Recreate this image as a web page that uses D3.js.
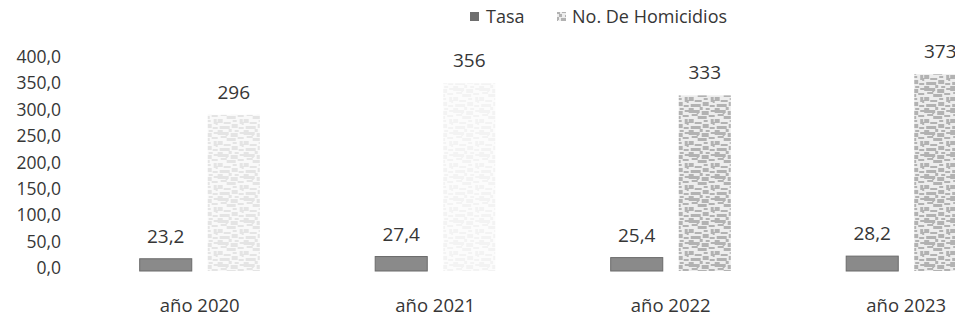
<!DOCTYPE html>
<html>
  <head>
    <meta charset="utf-8">
    <title>Tasa y homicidios</title>
    <style type="text/css">
        body{
            margin: 0;
            background: #ffffff;
        }
        svg text{
            font-family: "Open Sans", "Noto Sans", sans-serif;
            fill: #363636;
        }
    </style>
  </head>
  <body>
    <div id="chart"></div>

    <script src="https://cdn.jsdelivr.net/npm/d3@7"></script>
    <script>
        // Chart values
        var years = ["año 2020", "año 2021", "año 2022", "año 2023"];
        var seriesNames = ["Tasa", "No. De Homicidios"];
        var tasa = [23.2, 27.4, 25.4, 28.2];
        var homicidios = [296, 356, 333, 373];
        var tasaLabels = ["23,2", "27,4", "25,4", "28,2"];
        var homicidiosLabels = ["296", "356", "333", "373"];
        var yTicks = [0, 50, 100, 150, 200, 250, 300, 350, 400];

        // the scan faded the first two textured bars
        var textureFade = [0.35, 0.15, 1, 1];

        var width = 955, height = 320;

        var svg = d3.select("#chart").append("svg")
            .attr("width", width)
            .attr("height", height);

        //  Blotchy grey texture for the homicide bars
        var defs = svg.append("defs");
        var pat = defs.append("pattern")
            .attr("id", "blotch")
            .attr("patternUnits", "userSpaceOnUse")
            .attr("width", 26)
            .attr("height", 22);
        pat.append("rect").attr("width", 26).attr("height", 22).attr("fill", "#ededed");
        [[0, 0, 11, 3], [13, 1, 7, 4], [22, 0, 4, 2], [3, 4, 6, 2], [9, 6, 9, 3],
         [20, 5, 6, 2], [0, 9, 5, 4], [15, 10, 4, 2], [22, 9, 3, 5], [6, 12, 7, 2],
         [2, 16, 10, 3], [14, 14, 6, 4], [21, 17, 5, 2], [11, 19, 3, 3], [0, 20, 5, 2],
         [17, 20, 4, 2], [8, 2, 2, 2], [24, 12, 2, 3]].forEach(function (r) {
            pat.append("rect")
                .attr("x", r[0]).attr("y", r[1])
                .attr("width", r[2]).attr("height", r[3])
                .attr("fill", "#b2b2b2");
        });

        var x0 = d3.scaleBand()
            .domain(years)
            .range([82, 1024])
            .paddingInner(0.49)
            .paddingOuter(0.245);

        var x1 = d3.scaleBand()
            .domain(seriesNames)
            .range([0, x0.bandwidth()])
            .paddingInner(0.235);

        var y = d3.scaleLinear()
            .domain([0, 400])
            .range([271, 60]);

        //  Y axis labels only, no line or ticks
        var yAxis = d3.axisLeft(y)
            .tickValues(yTicks)
            .tickSize(0)
            .tickPadding(0)
            .tickFormat(function (d) { return d3.format(".1f")(d).replace(".", ","); });

        var gy = svg.append("g")
            .attr("transform", "translate(61,0)")
            .call(yAxis);
        gy.select(".domain").remove();
        gy.selectAll("text")
            .attr("dy", "0.32em")
            .attr("y", -3)
            .style("font-size", "17.5px")
            .style("font-family", "\"Open Sans\", sans-serif")
            .attr("fill", "#363636");

        var groups = svg.append("g").selectAll("g")
            .data(years)
            .enter().append("g")
            .attr("transform", function (d) { return "translate(" + x0(d) + ",0)"; });

        //  Tasa bars
        groups.append("rect")
            .attr("x", x1("Tasa"))
            .attr("y", function (d, i) { return y(tasa[i]); })
            .attr("width", x1.bandwidth())
            .attr("height", function (d, i) { return y(0) - y(tasa[i]); })
            .attr("fill", "#8a8a8a")
            .attr("stroke", "#6a6a6a")
            .attr("stroke-width", 1);

        //  Homicidios bars (textured)
        groups.append("rect")
            .attr("x", x1("No. De Homicidios"))
            .attr("y", function (d, i) { return y(homicidios[i]); })
            .attr("width", x1.bandwidth())
            .attr("height", function (d, i) { return y(0) - y(homicidios[i]); })
            .attr("fill", "url(#blotch)")
            .attr("opacity", function (d, i) { return textureFade[i]; });

        //  Value labels
        groups.append("text")
            .attr("x", x1("Tasa") + x1.bandwidth() / 2)
            .attr("y", function (d, i) { return y(tasa[i]) - 16; })
            .attr("text-anchor", "middle")
            .style("font-size", "19px")
            .text(function (d, i) { return tasaLabels[i]; });

        groups.append("text")
            .attr("x", x1("No. De Homicidios") + x1.bandwidth() / 2)
            .attr("y", function (d, i) { return y(homicidios[i]) - 16; })
            .attr("text-anchor", "middle")
            .style("font-size", "19px")
            .text(function (d, i) { return homicidiosLabels[i]; });

        //  Category labels
        groups.append("text")
            .attr("x", x0.bandwidth() / 2)
            .attr("y", 312)
            .attr("text-anchor", "middle")
            .style("font-size", "18.5px")
            .text(function (d) { return d; });

        //  Legend
        var legend = svg.append("g").attr("transform", "translate(470,17)");
        legend.append("rect")
            .attr("x", 0).attr("y", -5)
            .attr("width", 9).attr("height", 9)
            .attr("fill", "#6e6e6e");
        legend.append("text")
            .attr("x", 16).attr("y", 0)
            .attr("dy", "0.35em")
            .style("font-size", "18px")
            .text(seriesNames[0]);
        legend.append("rect")
            .attr("x", 87).attr("y", -5)
            .attr("width", 9).attr("height", 9)
            .attr("fill", "url(#blotch)");
        legend.append("text")
            .attr("x", 102).attr("y", 0)
            .attr("dy", "0.35em")
            .style("font-size", "18px")
            .text(seriesNames[1]);
    </script>
  </body>
</html>
